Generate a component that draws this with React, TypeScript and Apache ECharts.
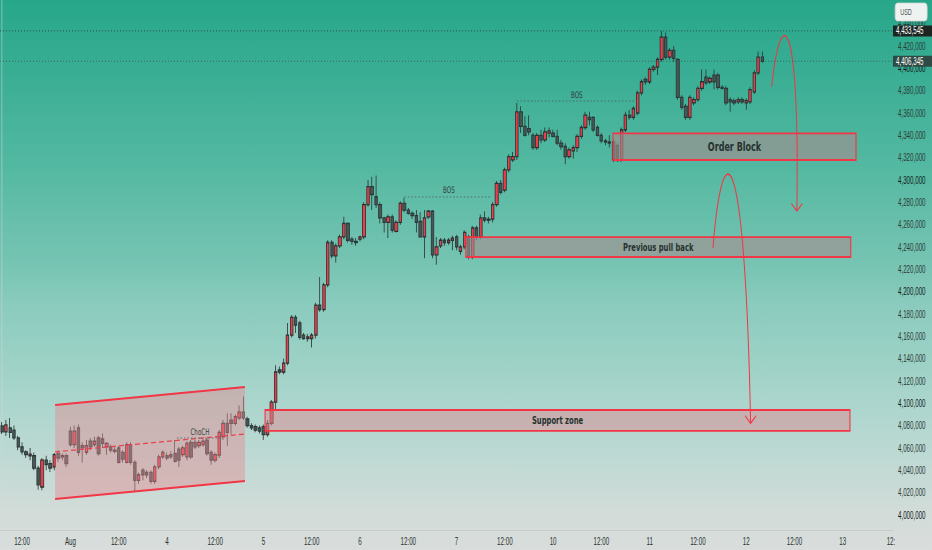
import React, { useEffect, useRef } from "react";
import * as echarts from "echarts";

// The reference picture is horizontally condensed; the chart is laid out
// in a wider frame and squeezed by SX so that texts look the same.
const SX = 0.62;
const FRAME_W = Math.round(932 / SX);
const FRAME_H = 550;
const px = (v: number) => v / SX; // on-screen horizontal px -> frame px

const AXIS_FONT = "'Liberation Sans', Arial, sans-serif";
const NOTE_FONT = "'DejaVu Sans', Verdana, sans-serif";
const RED = "#f23645";

// ---- x axis (hourly slots, weekends skipped) ----
const SLOT_COUNT = 222;
const FIRST_LABEL_SLOT = 5;
const LABEL_STEP = 12;
const X_LABELS = [
  "12:00", "Aug", "12:00", "4", "12:00", "5", "12:00", "6", "12:00", "7",
  "12:00", "10", "12:00", "11", "12:00", "12", "12:00", "13", "12:",
];

// ---- candles: [open, close, low, high] in thousands ----
const JUL31 = [
  [4079.7, 4074.3, 4072.5, 4083.3],
  [4074.3, 4080.6, 4070.7, 4085.0],
  [4078.0, 4074.0, 4068.9, 4086.8],
  [4076.0, 4069.0, 4067.0, 4080.0],
  [4069.0, 4061.0, 4058.0, 4071.0],
  [4061.0, 4056.5, 4054.0, 4065.0],
  [4056.5, 4054.0, 4051.0, 4058.0],
  [4053.0, 4054.5, 4049.0, 4060.0],
  [4053.0, 4042.0, 4040.0, 4056.0],
  [4042.0, 4027.0, 4022.5, 4044.0],
  [4025.0, 4049.0, 4022.0, 4051.0],
  [4049.0, 4045.0, 4040.0, 4053.0],
  [4046.0, 4042.0, 4038.5, 4049.0],
  [4043.0, 4054.0, 4040.0, 4055.5],
  [4055.0, 4051.0, 4047.5, 4058.0],
  [4052.0, 4053.0, 4049.0, 4055.0],
  [4053.0, 4046.0, 4043.0, 4055.0],
];
const AUG1 = [
  [4075, 4063, 4061, 4079],
  [4063, 4075, 4060, 4080],
  [4078, 4056, 4053, 4081],
  [4062, 4060, 4047, 4065],
  [4056, 4062, 4054, 4067],
  [4066, 4061, 4058, 4069],
  [4063, 4066, 4061, 4070],
  [4069, 4055, 4053, 4071],
  [4068, 4064, 4060, 4073],
  [4061, 4064, 4054, 4065],
  [4061, 4058, 4056, 4063],
  [4058, 4057, 4055, 4061],
  [4060, 4047, 4046, 4062],
  [4056, 4050, 4047, 4058],
  [4047, 4063, 4046, 4065],
  [4063, 4047, 4045, 4065],
  [4047, 4031, 4021, 4049],
  [4031, 4036, 4028, 4038],
  [4040, 4036, 4031, 4042],
  [4038, 4036, 4033, 4040],
  [4038, 4030, 4028, 4040],
  [4030, 4043, 4028, 4045],
  [4043, 4052, 4041, 4054],
  [4052, 4056, 4050, 4058],
];
const AUG4 = [
  [4053, 4051, 4049, 4056],
  [4054, 4052, 4050, 4057],
  [4055, 4048, 4047, 4067],
  [4059, 4049, 4043, 4061],
  [4054, 4060, 4052, 4062],
  [4052, 4064, 4049, 4066],
  [4065, 4052, 4050, 4067],
  [4065, 4061, 4059, 4067],
  [4062, 4065, 4060, 4067],
  [4063, 4066, 4061, 4068],
  [4067, 4055, 4053, 4069],
  [4056, 4049, 4045, 4058],
  [4049, 4054, 4047, 4056],
  [4053.5, 4074, 4051, 4076],
  [4070, 4082, 4067, 4085],
  [4082, 4074, 4062, 4091],
  [4085, 4082, 4072, 4091],
  [4082, 4088, 4080, 4090],
  [4087, 4092, 4085, 4098],
  [4092, 4087, 4085, 4106],
  [4086, 4080, 4078, 4088],
  [4080, 4078, 4076, 4082],
  [4079, 4076, 4074, 4081],
  [4078, 4075, 4073, 4080],
];
const AUG5 = [
  [4079, 4072, 4067, 4081],
  [4072, 4082, 4070, 4085],
  [4082, 4101, 4080, 4103],
  [4101, 4128, 4094, 4134],
  [4130, 4128, 4126, 4133],
  [4128, 4136, 4126, 4140],
  [4136, 4161, 4134, 4172],
  [4161, 4177, 4159, 4179],
  [4177, 4170, 4163, 4179],
  [4172, 4159, 4157, 4174],
  [4161, 4158, 4157, 4163],
  [4158, 4159.5, 4155, 4162],
  [4158, 4161, 4150, 4163],
  [4161, 4188, 4158, 4190],
  [4188, 4184, 4182, 4213],
  [4184, 4206, 4182, 4208],
  [4206, 4244, 4204, 4246],
  [4244, 4232, 4230, 4246],
  [4232, 4241, 4226, 4243],
  [4241, 4249, 4239, 4251],
  [4249, 4261, 4247, 4267],
  [4261, 4246, 4244, 4262],
  [4247, 4245, 4242, 4249],
  [4245, 4244, 4241, 4248],
];
const AUG6 = [
  [4247, 4249, 4245, 4250],
  [4249, 4278, 4247, 4280],
  [4278, 4294, 4276, 4300],
  [4294, 4287, 4273, 4303],
  [4285, 4278, 4275, 4304],
  [4278, 4266, 4261, 4280],
  [4266, 4262, 4253, 4267],
  [4262, 4267, 4248, 4269],
  [4267, 4255, 4253, 4269],
  [4254, 4262, 4253, 4264],
  [4262, 4279, 4260, 4281],
  [4279, 4273, 4271, 4284],
  [4273, 4270, 4269, 4275],
  [4270, 4268, 4265, 4272],
  [4268, 4262, 4253, 4273],
  [4263, 4249, 4249, 4271],
  [4249, 4266, 4230, 4273],
  [4267, 4272, 4265, 4273],
  [4272, 4233, 4230, 4273],
  [4233, 4240, 4224, 4249],
  [4241, 4246, 4239, 4248],
  [4246, 4244, 4241, 4248],
  [4244, 4246, 4242, 4248],
  [4246, 4248, 4237, 4250],
];
const AUG7 = [
  [4249, 4240, 4237, 4251],
  [4236, 4240, 4233, 4242],
  [4240, 4253, 4238, 4255],
  [4249, 4231, 4229, 4251],
  [4231, 4257, 4229, 4259],
  [4257, 4249, 4246, 4259],
  [4249, 4266, 4247, 4269],
  [4266, 4264, 4262, 4272],
  [4264, 4265, 4261, 4267],
  [4265, 4278, 4262, 4280],
  [4278, 4297, 4276, 4299],
  [4297, 4289, 4287, 4300],
  [4291, 4309, 4289, 4311],
  [4309, 4321, 4307, 4323],
  [4318, 4321, 4316, 4325],
  [4321, 4361, 4318, 4369],
  [4361, 4348, 4342, 4366],
  [4348, 4340, 4339, 4357],
  [4346, 4343, 4340, 4358],
  [4340, 4329, 4327, 4342],
  [4329, 4340, 4327, 4342],
  [4340, 4336, 4333, 4345],
  [4336, 4343, 4334, 4347],
  [4342, 4344, 4338, 4347],
];
const AUG10 = [
  [4342, 4339, 4338, 4345],
  [4339, 4333, 4331, 4345],
  [4333, 4330, 4327, 4336],
  [4330, 4321, 4314, 4333],
  [4321, 4327, 4319, 4329],
  [4326, 4329, 4319, 4331],
  [4329, 4339, 4325, 4341],
  [4339, 4347, 4337, 4349],
  [4347, 4358, 4345, 4361],
  [4356, 4354, 4349, 4361],
  [4356, 4345, 4343, 4357],
  [4347, 4340, 4339, 4349],
  [4340, 4335, 4333, 4342],
  [4335, 4334, 4331, 4337],
  [4334, 4333, 4329, 4340],
  [4334, 4318, 4316, 4336],
  [4331, 4318, 4316, 4333],
  [4318, 4345, 4316, 4347],
  [4345, 4358, 4343, 4361],
  [4358, 4356, 4354, 4363],
  [4356, 4364, 4354, 4366],
  [4360, 4378, 4358, 4380],
  [4378, 4388, 4376, 4390],
  [4390, 4388, 4385, 4392],
];
const AUG11 = [
  [4388, 4399, 4386, 4401],
  [4399, 4401, 4397, 4403],
  [4401, 4408, 4394, 4410],
  [4408, 4428, 4406, 4433.545],
  [4428, 4410, 4408, 4432],
  [4410, 4416, 4408, 4418],
  [4416, 4409, 4406, 4420],
  [4408, 4374, 4372, 4409],
  [4374, 4365, 4363, 4376],
  [4366, 4356, 4354, 4368],
  [4356, 4374, 4354, 4376],
  [4369, 4372, 4367, 4374],
  [4372, 4382, 4370, 4384],
  [4382, 4388, 4380, 4399],
  [4392, 4387, 4385, 4399],
  [4388, 4391, 4386, 4393],
  [4394, 4388, 4381, 4399],
  [4394, 4383, 4381, 4396],
  [4383, 4382, 4381, 4385],
  [4382, 4369, 4367, 4384],
  [4372, 4370, 4361, 4374],
  [4371, 4369, 4367, 4373],
  [4370, 4372, 4368, 4374],
  [4372, 4370, 4368, 4374],
];
const AUG12 = [
  [4369, 4371, 4363, 4373],
  [4370, 4381, 4368, 4383],
  [4379, 4396, 4377, 4398],
  [4396, 4410, 4394, 4415],
  [4410, 4406.345, 4405, 4415],
];
const CANDLES = [
  ...JUL31, ...AUG1, ...AUG4, ...AUG5, ...AUG6, ...AUG7, ...AUG10, ...AUG11, ...AUG12,
];

// ---- price axis ----
const Y_MIN = 3986.5;
const Y_MAX = 4461.2;
const Y_SPLITS = 24;

// ---- annotations (x in slot units, y in price) ----
const PRICE_TAGS = [
  { price: 4433.545, bg: "#1d2523", line: "#2f3a38" },
  { price: 4406.345, bg: "#2f4a44", line: "#3b5752" },
];
const ZONES = [
  { label: "Support zone", x0: 65.4, x1: 210.8, top: 4094.0, bottom: 4075.2, fill: "rgba(222,140,146,0.5)", size: 11 },
  { label: "Previous pull back", x0: 115.3, x1: 211.0, top: 4248.9, bottom: 4231.0, fill: "rgba(165,140,142,0.6)", size: 11 },
  { label: "Order Block", x0: 151.9, x1: 212.3, top: 4341.8, bottom: 4317.9, fill: "rgba(165,140,142,0.62)", size: 13 },
];
const CHANNEL = { x0: 13.2, x1: 60.4, upper: [4098.5, 4114.6], lower: [4014.3, 4030.4] };
const STRUCTURE = [
  { text: "ChoCH", x0: 43.5, x1: 54.7, price: 4068.9, labelX: 49.2 },
  { text: "BOS", x0: 100.0, x1: 121.3, price: 4284.8, labelX: 111.1 },
  { text: "BOS", x0: 128.0, x1: 157.8, price: 4370.7, labelX: 142.9 },
];
const ARROWS = [
  { from: [191.35, 4383.6], c1: [193.4, 4456.7], c2: [198.4, 4456.7], to: [197.6, 4272.2] },
  { from: [176.75, 4239.1], c1: [179.0, 4344.8], c2: [184.7, 4344.8], to: [186.1, 4082.1] },
];

const BG =
  "linear-gradient(to bottom, #27a78a 0%, #3aae94 13.6%, #55b9a2 31%, #77c4b3 48%, #89cbbd 55%, #b0d7cf 76%, #d2dcd9 93%, #d9dddc 100%)";

function buildOption(): any {
  const categories = Array.from({ length: SLOT_COUNT }, (_, i) => String(i));
  const fmtPrice = (v: number) => Math.round(v * 1000).toLocaleString("en-US");

  const renderZone = (params: any, api: any) => {
    const z = ZONES[params.dataIndex];
    const a = api.coord([z.x0, z.top]);
    const b = api.coord([z.x1, z.bottom]);
    return {
      type: "group",
      children: [
        {
          type: "rect",
          shape: { x: a[0], y: a[1], width: b[0] - a[0], height: b[1] - a[1] },
          style: { fill: z.fill, stroke: RED, lineWidth: 1.8 },
        },
        {
          type: "text",
          x: (a[0] + b[0]) / 2,
          y: (a[1] + b[1]) / 2,
          style: {
            text: z.label,
            fill: "#26322f",
            font: `bold ${z.size}px ${NOTE_FONT}`,
            align: "center",
            verticalAlign: "middle",
          },
        },
      ],
    };
  };

  const renderChannel = (_params: any, api: any) => {
    const tl = api.coord([CHANNEL.x0, CHANNEL.upper[0]]);
    const tr = api.coord([CHANNEL.x1, CHANNEL.upper[1]]);
    const br = api.coord([CHANNEL.x1, CHANNEL.lower[1]]);
    const bl = api.coord([CHANNEL.x0, CHANNEL.lower[0]]);
    return {
      type: "group",
      children: [
        { type: "polygon", shape: { points: [tl, tr, br, bl] }, style: { fill: "rgba(228,140,146,0.45)" } },
        { type: "line", shape: { x1: tl[0], y1: tl[1], x2: tr[0], y2: tr[1] }, style: { stroke: RED, lineWidth: 2 } },
        { type: "line", shape: { x1: bl[0], y1: bl[1], x2: br[0], y2: br[1] }, style: { stroke: RED, lineWidth: 2 } },
        {
          type: "line",
          shape: { x1: tl[0], y1: (tl[1] + bl[1]) / 2, x2: tr[0], y2: (tr[1] + br[1]) / 2 },
          style: { stroke: "#e8404f", lineWidth: 1.2, lineDash: [px(5), px(3)] },
        },
      ],
    };
  };

  const renderStructure = (params: any, api: any) => {
    const s = STRUCTURE[params.dataIndex];
    const a = api.coord([s.x0, s.price]);
    const b = api.coord([s.x1, s.price]);
    const t = api.coord([s.labelX, s.price]);
    return {
      type: "group",
      children: [
        {
          type: "line",
          shape: { x1: a[0], y1: a[1], x2: b[0], y2: b[1] },
          style: { stroke: "#4f5c59", lineWidth: 1, lineDash: [px(1.5), px(2)] },
        },
        {
          type: "text",
          x: t[0],
          y: t[1] - 2,
          style: {
            text: s.text,
            fill: "#34403d",
            font: `9px ${NOTE_FONT}`,
            align: "center",
            verticalAlign: "bottom",
          },
        },
      ],
    };
  };

  const renderArrow = (params: any, api: any) => {
    const ar = ARROWS[params.dataIndex];
    const p0 = api.coord(ar.from);
    const c1 = api.coord(ar.c1);
    const c2 = api.coord(ar.c2);
    const p1 = api.coord(ar.to);
    const hw = px(5.5);
    return {
      type: "group",
      children: [
        {
          type: "bezierCurve",
          shape: { x1: p0[0], y1: p0[1], cpx1: c1[0], cpy1: c1[1], cpx2: c2[0], cpy2: c2[1], x2: p1[0], y2: p1[1] },
          style: { stroke: RED, lineWidth: 1.6, fill: null },
        },
        {
          type: "polyline",
          shape: { points: [[p1[0] - hw, p1[1] - 7.5], [p1[0], p1[1]], [p1[0] + hw, p1[1] - 7.5]] },
          style: { stroke: RED, lineWidth: 1.4, fill: null },
        },
      ],
    };
  };

  const renderTag = (params: any, api: any) => {
    const t = PRICE_TAGS[params.dataIndex];
    const p = api.coord([0, t.price]);
    const cs = params.coordSys;
    const right = cs.x + cs.width;
    return {
      type: "group",
      children: [
        {
          type: "line",
          shape: { x1: cs.x, y1: p[1], x2: right, y2: p[1] },
          style: { stroke: t.line, lineWidth: 1, lineDash: [px(1), px(2)] },
        },
        {
          type: "rect",
          shape: { x: right, y: p[1] - 5.5, width: px(39), height: 11 },
          style: { fill: t.bg },
        },
        {
          type: "text",
          x: right + px(3),
          y: p[1],
          style: {
            text: fmtPrice(t.price),
            fill: "#ffffff",
            font: `10px ${AXIS_FONT}`,
            align: "left",
            verticalAlign: "middle",
          },
        },
      ],
    };
  };

  const annotationBase = { type: "custom", xAxisIndex: 1, yAxisIndex: 0, silent: true, clip: false };

  return {
    animation: false,
    backgroundColor: "transparent",
    textStyle: { fontFamily: AXIS_FONT },
    grid: { left: 0, right: px(39), top: 0, bottom: 20, outerBoundsMode: "none", containLabel: false },
    xAxis: [
      {
        type: "category",
        data: categories,
        boundaryGap: true,
        axisTick: { show: false },
        axisLine: { show: true, lineStyle: { color: "#c3cac8", width: 1 } },
        splitLine: { show: false },
        axisLabel: {
          interval: (index: number) =>
            index >= FIRST_LABEL_SLOT && (index - FIRST_LABEL_SLOT) % LABEL_STEP === 0,
          formatter: (_v: string, index: number) => {
            const k = (index - FIRST_LABEL_SLOT) / LABEL_STEP;
            return X_LABELS[k] ?? "";
          },
          color: "#28332f",
          fontSize: 10,
          fontFamily: AXIS_FONT,
          margin: 6,
        },
      },
      { type: "value", min: -0.5, max: SLOT_COUNT - 0.5, show: false },
    ],
    yAxis: {
      type: "value",
      position: "right",
      min: Y_MIN,
      max: Y_MAX,
      splitNumber: Y_SPLITS,
      scale: true,
      splitLine: { show: false },
      axisTick: { show: false },
      axisLine: { show: true, lineStyle: { color: "rgba(205,218,214,0.55)", width: 1.5 } },
      axisLabel: {
        showMinLabel: false,
        showMaxLabel: false,
        margin: px(5),
        color: "#2e3b37",
        fontSize: 10,
        fontFamily: AXIS_FONT,
        formatter: (v: number) => {
          if (v > 4450) return "";
          const s = fmtPrice(v);
          return Math.round(v) % 100 === 0 ? `{b|${s}}` : s;
        },
        rich: { b: { color: "#121a18", fontSize: 10, fontFamily: AXIS_FONT } },
      },
    },
    graphic: [
      {
        type: "rect",
        x: px(895),
        y: 3,
        shape: { width: px(32), height: 18, r: 4 },
        style: { fill: "#eef2f1", stroke: "#cdd6d3", lineWidth: 1 },
        z: 10,
      },
      {
        type: "text",
        x: px(900),
        y: 12,
        style: { text: "USD", fill: "#4e5957", font: `9px ${AXIS_FONT}`, verticalAlign: "middle" },
        z: 11,
      },
    ],
    series: [
      {
        type: "candlestick",
        xAxisIndex: 0,
        yAxisIndex: 0,
        data: CANDLES,
        barWidth: px(3),
        z: 2,
        itemStyle: {
          color: "#ef3b4a",
          color0: "#475756",
          borderColor: "#2a3030",
          borderColor0: "#2c3737",
          borderWidth: 1.3,
        },
      },
      { ...annotationBase, z: 3, data: [[CHANNEL.x0, CHANNEL.upper[0]]], renderItem: renderChannel },
      { ...annotationBase, z: 3, data: ZONES.map((zz) => [zz.x0, zz.top]), renderItem: renderZone },
      { ...annotationBase, z: 4, data: STRUCTURE.map((s) => [s.x0, s.price]), renderItem: renderStructure },
      { ...annotationBase, z: 5, data: ARROWS.map((a) => a.from), renderItem: renderArrow },
      { ...annotationBase, z: 6, data: PRICE_TAGS.map((t) => [0, t.price]), renderItem: renderTag },
    ],
  };
}

export default function App() {
  const ref = useRef<HTMLDivElement>(null);
  useEffect(() => {
    if (!ref.current) return;
    const chart = echarts.init(ref.current, undefined, { renderer: "svg" });
    chart.setOption(buildOption());
    return () => chart.dispose();
  }, []);
  return (
    <div
      style={{
        position: "fixed",
        left: 0,
        top: 0,
        width: 932,
        height: FRAME_H,
        overflow: "hidden",
        background: BG,
      }}
    >
      <div
        ref={ref}
        style={{
          width: FRAME_W,
          height: FRAME_H,
          transform: `scaleX(${932 / FRAME_W})`,
          transformOrigin: "0 0",
        }}
      />
    </div>
  );
}
